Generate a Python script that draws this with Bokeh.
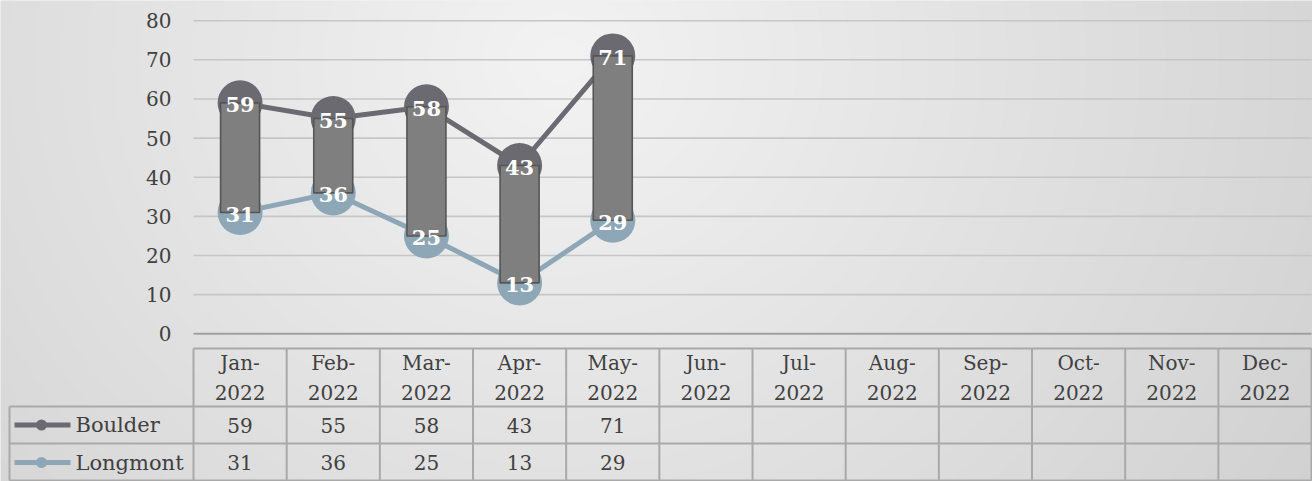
import numpy as np
from bokeh.plotting import figure
from bokeh.models import Range1d
from bokeh.core.properties import value
from bokeh.embed import file_html
from bokeh.resources import INLINE

# ---------------- data ----------------
months = ["Jan-2022", "Feb-2022", "Mar-2022", "Apr-2022", "May-2022", "Jun-2022",
          "Jul-2022", "Aug-2022", "Sep-2022", "Oct-2022", "Nov-2022", "Dec-2022"]
boulder = [59, 55, 58, 43, 71]
longmont = [31, 36, 25, 13, 29]
series_names = ["Boulder", "Longmont"]
y_ticks = [0, 10, 20, 30, 40, 50, 60, 70, 80]

# ---------------- layout helpers ----------------
W, H = 1312, 481
CW = 93.17          # px per category
PU = 3.914          # px per value unit
RX0, RY0 = 193.0, 333.3   # reference position of (0, 0)


def dx(rx):
    return (rx - RX0) / CW


def dy(ry):
    return (RY0 - ry) / PU


x_start, x_end = dx(0), dx(W)
y_start, y_end = dy(H), dy(0)

FONT = value("DejaVu Serif")
TXT = "#404040"
BORDER = "#a9a9a9"
C_B = "#6b6a70"
C_L = "#8ea7b7"

p = figure(width=W, height=H, x_range=Range1d(x_start, x_end), y_range=Range1d(y_start, y_end),
           output_backend="svg", toolbar_location=None, min_border=0,
           x_axis_location=None, y_axis_location=None, tools="")
p.grid.visible = False
p.outline_line_color = None
p.background_fill_color = "#e6e6e6"
p.border_fill_color = "#e6e6e6"

# background gradient (decoration)
h2, w2 = 241, 656
yy, xx = np.mgrid[0:h2, 0:w2]
rx = (xx + 0.5) * W / w2
ry = H - (yy + 0.5) * H / h2
d = np.sqrt((rx - 560.0) ** 2 + ((ry - 60.0) * 1.1) ** 2)
v = np.clip(243 - 0.038 * d, 200, 245).astype(np.uint8)
img = np.empty((h2, w2), dtype=np.uint32)
view = img.view(dtype=np.uint8).reshape((h2, w2, 4))
view[:, :, 0] = v
view[:, :, 1] = v
view[:, :, 2] = v
view[:, :, 3] = 255
p.image_rgba(image=[img], x=x_start, y=y_start, dw=x_end - x_start, dh=y_end - y_start)

n_cat = len(months)
# gridlines
grid_vals = y_ticks[1:]
p.segment(x0=[0] * len(grid_vals), x1=[n_cat] * len(grid_vals), y0=grid_vals, y1=grid_vals,
          line_color="#c6c6c6", line_width=1.6)
p.segment(x0=[0], x1=[n_cat], y0=[y_ticks[0]], y1=[y_ticks[0]], line_color="#a0a0a0", line_width=2)

# y tick labels
p.text(x=[dx(171)] * len(y_ticks), y=y_ticks, text=[str(t) for t in y_ticks],
       text_align="right", text_baseline="middle", text_font=FONT, text_font_size="20px",
       text_color=TXT)

xs = [i + 0.5 for i in range(len(boulder))]
highs = [max(a, b) for a, b in zip(boulder, longmont)]
lows = [min(a, b) for a, b in zip(boulder, longmont)]

# series lines and markers
p.line(xs, boulder, line_color=C_B, line_width=5, line_join="round")
p.line(xs, longmont, line_color=C_L, line_width=5, line_join="round")
p.scatter(xs, boulder, size=45, fill_color=C_B, line_color=None)
p.scatter(xs, longmont, size=45, fill_color=C_L, line_color=None)

# high-low bars
p.vbar(x=xs, width=39 / CW, bottom=lows, top=highs, fill_color="#7f7f7f",
       line_color="#555555", line_width=1.6)

# data labels
for vals in (boulder, longmont):
    p.text(x=xs, y=vals, text=[str(t) for t in vals], text_align="center",
           text_baseline="middle", text_font=FONT, text_font_size="21px",
           text_font_style="bold", text_color="white", y_offset=2)

# ---------------- data table ----------------
top_h, row1, row2, bot = dy(348), dy(406), dy(443), dy(480)
left_col = dx(9)
p.segment(x0=list(range(n_cat + 1)), x1=list(range(n_cat + 1)),
          y0=[top_h] * (n_cat + 1), y1=[bot] * (n_cat + 1), line_color=BORDER, line_width=2)
p.segment(x0=[0, left_col, left_col, left_col], x1=[n_cat] * 4,
          y0=[top_h, row1, row2, bot], y1=[top_h, row1, row2, bot], line_color=BORDER, line_width=2)
p.segment(x0=[left_col], x1=[left_col], y0=[row1], y1=[bot], line_color=BORDER, line_width=2)

cx = [i + 0.5 for i in range(n_cat)]
p.text(x=cx, y=[dy(362.5)] * n_cat, text=[m.split("-")[0] + "-" for m in months],
       text_align="center", text_baseline="middle", text_font=FONT, text_font_size="20px",
       text_color=TXT)
p.text(x=cx, y=[dy(391.5)] * n_cat, text=[m.split("-")[1] for m in months],
       text_align="center", text_baseline="middle", text_font=FONT, text_font_size="20px",
       text_color=TXT)

row_centers = [dy(424.5), dy(462)]
for vals, yc, col, name in zip((boulder, longmont), row_centers, (C_B, C_L), series_names):
    p.text(x=xs, y=[yc] * len(vals), text=[str(t) for t in vals], text_align="center",
           text_baseline="middle", text_font=FONT, text_font_size="20px", text_color=TXT)
    p.segment(x0=[dx(14)], x1=[dx(70)], y0=[yc], y1=[yc], line_color=col, line_width=5)
    p.scatter([dx(41)], [yc], size=11, fill_color=col, line_color=None)
    p.text(x=[dx(75)], y=[yc], text=[name], text_align="left", text_baseline="middle",
           text_font=FONT, text_font_size="21px", text_color=TXT)

open("out.html", "w").write(file_html(p, INLINE))
